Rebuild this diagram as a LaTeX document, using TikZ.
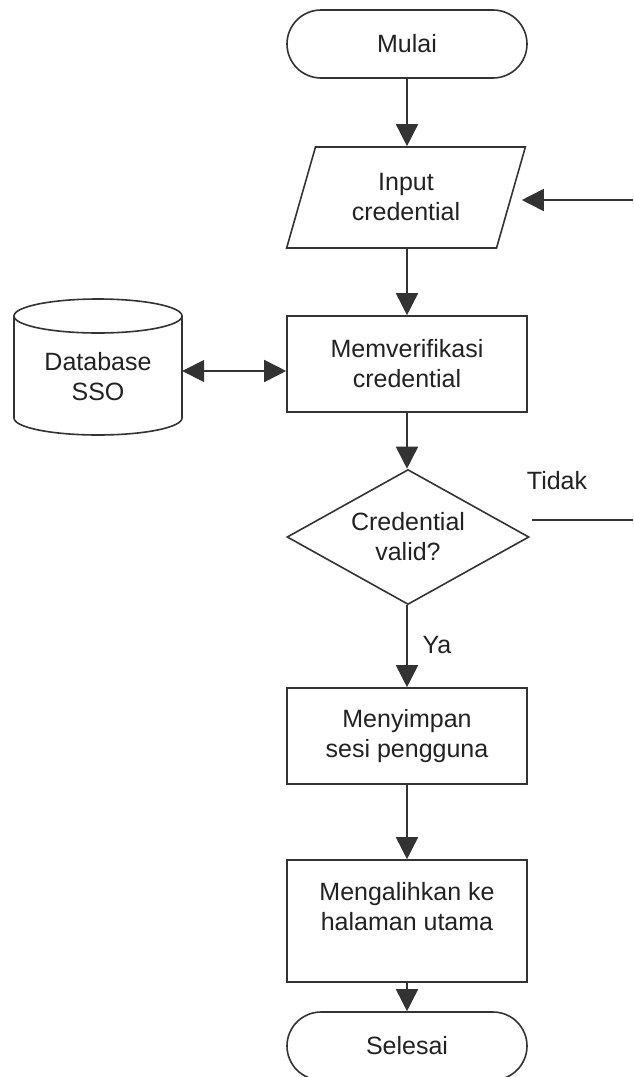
\documentclass[tikz,border=0pt]{standalone}
\usepackage{fontspec}
\setmainfont{Liberation Sans}
\usetikzlibrary{shapes.geometric,arrows.meta,calc}
\definecolor{lc}{HTML}{333333}
\definecolor{tc}{HTML}{222222}
\begin{document}
\begin{tikzpicture}[x=1pt,y=-1pt,
  txt/.style={font=\fontsize{25pt}{30pt}\selectfont, text=tc, align=center, inner sep=0pt},
  line/.style={line width=1.6pt, draw=lc},
  arrow/.style={line, -{Triangle[length=22pt,width=22pt]}},
  dblarrow/.style={line, {Triangle[length=22pt,width=22pt]}-{Triangle[length=22pt,width=22pt]}},
  term/.style={txt, line, rectangle, rounded corners=34pt, minimum width=240pt, minimum height=68pt, fill=white},
  io/.style={txt, line, trapezium, trapezium left angle=70, trapezium right angle=110, trapezium stretches=true, minimum width=239pt, minimum height=101pt, fill=white},
  proc/.style={txt, line, rectangle, minimum width=240pt, fill=white},
  decision/.style={txt, line, diamond, aspect=1.79, minimum width=242pt, minimum height=135pt, fill=white},
  lbl/.style={txt}
]
\clip (0,0) rectangle (633,1077);
\fill[white] (0,0) rectangle (633,1077);

% nodes
\node[term] (start) at (407,44) {Mulai};
\node[io] (in) at (406,197.5) {Input\\credential};
\node[proc, minimum height=96pt] (mv) at (407,364) {Memverifikasi\\credential};
\node[decision] (dec) at (408,537) {Credential\\valid?};
\node[proc, minimum height=96pt] (sim) at (407,736) {Menyimpan\\sesi pengguna};
\node[proc, minimum height=122pt] (ml) at (407,921) {};
\node[txt] (mltext) at ([yshift=14pt]ml.center) {Mengalihkan ke\\halaman utama};
\node[term] (end) at (407,1046) {Selesai};

% database cylinder
\node[minimum width=168pt, minimum height=137pt, inner sep=0pt] (db) at (98,366.5) {};
\draw[line, fill=white] (14,316) -- (14,418)
  arc[start angle=180, end angle=360, x radius=84pt, y radius=17pt]
  -- (182,316)
  arc[start angle=0, end angle=180, x radius=84pt, y radius=17pt] -- cycle;
\draw[line] (14,316) arc[start angle=180, end angle=360, x radius=84pt, y radius=17pt];
\node[txt] (dbtext) at ([yshift=-10pt]db.center) {Database\\SSO};

% labels
\node[lbl] (tidak) at (557,481) {Tidak};
\node[lbl] (ya) at (437,645) {Ya};

% connectors
\draw[arrow] (start.south) -- (start.south |- in.north);
\draw[arrow] (in.south -| mv.north) -- (mv.north);
\draw[arrow] (mv.south) -- (mv.south |- dec.north);
\draw[arrow] (dec.south -| sim.north) -- (sim.north);
\draw[arrow] (sim.south) -- (ml.north);
\draw[arrow] (ml.south) -- (end.north);
\draw[dblarrow] (db.east |- 0,371) -- (mv.west |- 0,371);

\coordinate (tk) at (633,520);
\draw[line] ($(dec.east)+(2,-17)$) -- (tk);
\coordinate (rt) at (633,200);
\draw[arrow, shorten >=10pt] (rt) -- (rt -| in.east);
\end{tikzpicture}
\end{document}
